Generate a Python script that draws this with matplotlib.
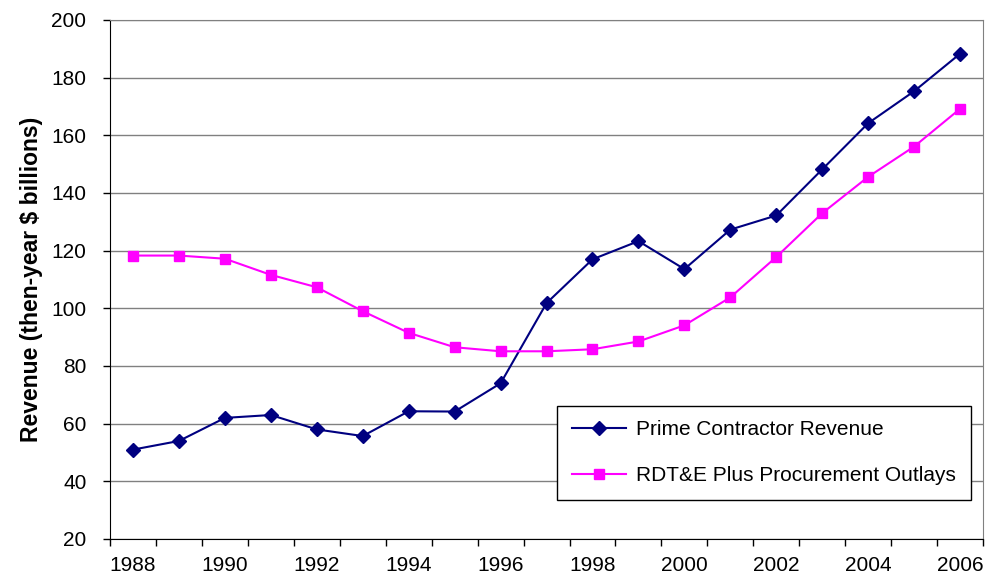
import numpy as np
import matplotlib.pyplot as plt

plt.rcParams['font.family'] = ['Liberation Sans', 'DejaVu Sans']

years = list(range(1988, 2007))
prime_revenue = [51, 54, 62, 63, 58, 55.7, 64.3, 64.2, 74, 101.8, 117, 123.3, 113.6, 127.3, 132.2,
                 148.2, 164.2, 175.3, 188.3]
rdte_procurement = [118.3, 118.3, 117.2, 111.6, 107.3, 99, 91.5, 86.5, 85.1, 85.1, 85.8, 88.5,
                    94.1, 103.8, 117.8, 133, 145.6, 156.1, 169.2]

fig = plt.figure(figsize=(9.87, 5.81), dpi=100)
ax = fig.add_axes([0.1115, 0.0723, 0.8845, 0.8933])

x = np.arange(len(years))
ax.plot(x, prime_revenue, color='#000080', lw=1.5, marker='D', markersize=7.5,
        label='Prime Contractor Revenue', zorder=3)
ax.plot(x, rdte_procurement, color='#FF00FF', lw=1.5, marker='s', markersize=7,
        label='RDT&E Plus Procurement Outlays', zorder=3)

ax.set_xlim(-0.5, len(years) - 0.5)
ax.set_ylim(20, 200)
ax.set_yticks(np.arange(20, 201, 20))
ax.yaxis.grid(True, color='#808080', lw=1)
ax.set_axisbelow(True)

# tick marks between categories, labels every other year
ax.set_xticks(np.arange(len(years) + 1) - 0.5)
ax.set_xticklabels([])
ax.set_xticks(x[::2], minor=True)
ax.set_xticklabels([str(y) for y in years[::2]], minor=True)
ax.tick_params(axis='x', which='major', direction='out', length=5, width=1)
ax.tick_params(axis='x', which='minor', length=0, pad=12, labelsize=15)
ax.tick_params(axis='y', direction='out', length=5, width=1, labelsize=15, pad=12)

ax.set_ylabel('Revenue (then-year $ billions)', fontsize=16.5, fontweight='bold', labelpad=6)

for side in ['top', 'right']:
    ax.spines[side].set_color('#808080')
for side in ['left', 'bottom']:
    ax.spines[side].set_color('black')

leg = ax.legend(loc='lower left', bbox_to_anchor=(0.5, 0.055), fontsize=15, frameon=True,
                fancybox=False, edgecolor='black', framealpha=1, handlelength=2.6,
                borderpad=0.7, labelspacing=1.3, handletextpad=0.5)
leg.get_frame().set_linewidth(1)

fig.savefig('out.png', dpi=100)
